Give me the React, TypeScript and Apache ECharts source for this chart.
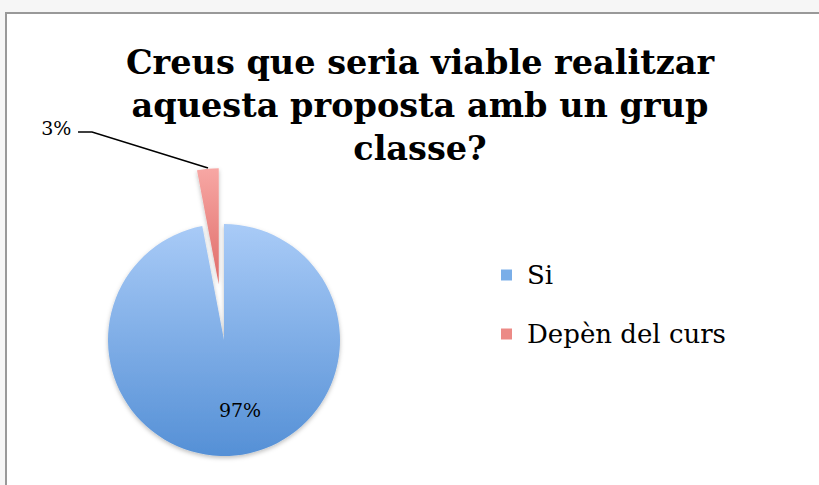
import React, { useEffect, useRef } from "react";
import * as echarts from "echarts";

const titleLines = ["Creus que seria viable realitzar", "aquesta proposta amb un grup", "classe?"];
const categories = ["Si", "Depèn del curs"];
const values = [97, 3];

const blueGrad = new echarts.graphic.LinearGradient(0, 0, 0, 1, [
  { offset: 0, color: "#a9cbf7" },
  { offset: 1, color: "#5590d6" },
]);
const redGrad = new echarts.graphic.LinearGradient(0, 0, 0, 1, [
  { offset: 0, color: "#f7a7a4" },
  { offset: 1, color: "#df6c68" },
]);

export default function App() {
  const ref = useRef<HTMLDivElement>(null);
  useEffect(() => {
    if (!ref.current) return;
    const chart = echarts.init(ref.current, undefined, { renderer: "svg" });
    const colors = [blueGrad, redGrad];
    const legendColors = ["#7aaee8", "#ec8a86"];
    // offset of the exploded slice (sector-local coordinates for its leader line)
    const offX = 5.3;
    const offY = 55.75;
    chart.setOption({
      animation: false,
      backgroundColor: "transparent",
      title: {
        text: titleLines.join("\n"),
        left: 415,
        top: 36,
        textAlign: "center",
        textStyle: {
          fontFamily: "DejaVu Serif",
          fontWeight: "bold",
          fontSize: 33.5,
          lineHeight: 43,
          color: "#000",
        },
      },
      legend: {
        orient: "vertical",
        left: 496,
        top: 257,
        itemWidth: 11,
        itemHeight: 11,
        itemGap: 33,
        icon: "rect",
        data: categories.map((c, i) => ({ name: c, itemStyle: { color: legendColors[i] } })),
        textStyle: {
          fontFamily: "DejaVu Serif",
          fontSize: 26,
          lineHeight: 26,
          color: "#000",
          padding: [0, 0, 0, 10],
        },
      },
      series: [
        {
          type: "pie",
          center: [224, 340],
          radius: 116,
          startAngle: 90,
          clockwise: true,
          selectedMode: "single",
          selectedOffset: 56,
          emphasis: { disabled: true },
          select: { itemStyle: {} },
          label: {
            fontFamily: "DejaVu Serif",
            fontSize: 19,
            color: "#000",
            formatter: "{d}%",
          },
          labelLine: { length: 15, length2: 15, lineStyle: { color: "#000", width: 1.5 } },
          itemStyle: {
            shadowBlur: 4,
            shadowColor: "rgba(0,0,0,0.25)",
            shadowOffsetY: 2,
          },
          labelLayout: (p: any) =>
            p.dataIndex === 1
              ? {
                  dx: -115,
                  dy: -26,
                  labelLinePoints: [
                    [208 + offX, 168 + offY],
                    [92 + offX, 132 + offY],
                    [78 + offX, 132 + offY],
                  ],
                }
              : { x: 240, y: 410, align: "center", verticalAlign: "middle" },
          data: categories.map((c, i) => ({
            name: c,
            value: values[i],
            selected: i === 1,
            itemStyle: { color: colors[i] },
            label: { position: i === 1 ? "outside" : "inside" },
            labelLine: { show: i === 1 },
          })),
        },
      ],
    });
    return () => chart.dispose();
  }, []);
  return (
    <div style={{ position: "fixed", left: 0, top: 0, width: 819, height: 485, background: "#f6f6f6", overflow: "hidden" }}>
      <div
        style={{
          position: "absolute",
          left: 5,
          top: 12,
          width: 830,
          height: 490,
          background: "#fff",
        }}
      />
      <div ref={ref} style={{ position: "absolute", left: 0, top: 0, width: 819, height: 485 }} />
      <div
        style={{
          position: "absolute",
          left: 5,
          top: 12,
          width: 830,
          height: 490,
          border: "2px solid #999",
          boxSizing: "border-box",
          pointerEvents: "none",
        }}
      />
    </div>
  );
}
